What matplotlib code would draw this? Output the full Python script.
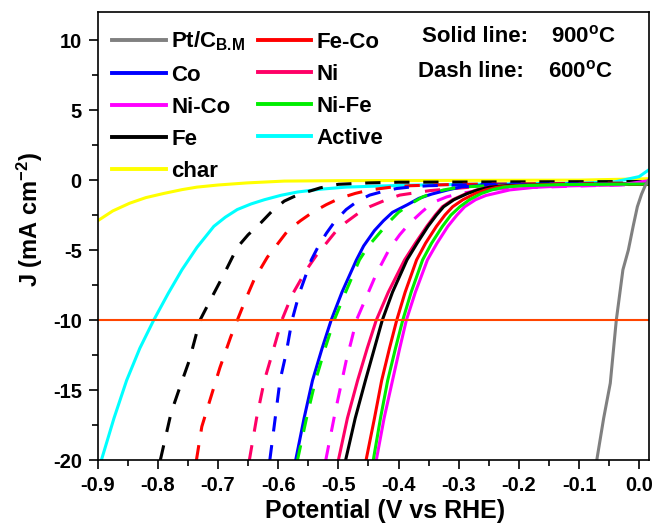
import matplotlib
matplotlib.use("Agg")
import matplotlib.pyplot as plt
from matplotlib.lines import Line2D
from matplotlib.ticker import MultipleLocator

plt.rcParams['font.family'] = ['Liberation Sans', 'DejaVu Sans']
plt.rcParams['font.weight'] = 'bold'
plt.rcParams['mathtext.fontset'] = 'custom'
plt.rcParams['mathtext.rm'] = 'Liberation Sans:bold'
plt.rcParams['mathtext.bf'] = 'Liberation Sans:bold'
plt.rcParams['mathtext.default'] = 'bf'

# LSV data: potential (V vs RHE) and J (mA cm-2)
pt_v = [-0.0705, -0.059, -0.048, -0.038, -0.027, -0.018, -0.010, -0.003, 0.004, 0.010, 0.020]
pt_j = [-20, -17, -14.5, -10, -6.4, -5.0, -3.3, -1.9, -1.0, -0.4, 0.3]

char_v = [-0.9, -0.875, -0.847, -0.82, -0.79, -0.76, -0.735, -0.70, -0.652, -0.59, -0.5, -0.4, -0.1, 0.015]
char_j = [-2.9, -2.2, -1.65, -1.25, -0.95, -0.68, -0.5, -0.35, -0.2, -0.07, -0.04, -0.03, 0.0, 0.1]

active_v = [-0.894, -0.873, -0.852, -0.830, -0.807, -0.783, -0.760, -0.735, -0.707, -0.688, -0.668, -0.645,
            -0.623, -0.595, -0.568, -0.530, -0.487, -0.430, -0.377, -0.250, -0.100, -0.040, 0.000, 0.015]
active_j = [-20, -17, -14.3, -12.0, -10, -8.1, -6.4, -4.8, -3.3, -2.65, -2.1, -1.7,
            -1.4, -1.08, -0.85, -0.65, -0.5, -0.42, -0.36, -0.28, -0.22, -0.12, 0.25, 0.7]

# 600 C samples (dashed)
fe600_v = [-0.796, -0.778, -0.762, -0.748, -0.730, -0.712, -0.690, -0.668, -0.650, -0.630,
           -0.610, -0.590, -0.575, -0.560, -0.530, -0.500, -0.450, -0.400, 0.015]
fe600_j = [-20, -16.6, -14.6, -12.9, -10, -8.5, -6.7, -4.8, -3.9, -3.1,
           -2.2, -1.5, -1.2, -0.95, -0.55, -0.3, -0.2, -0.15, -0.1]

feco600_v = [-0.736, -0.727, -0.712, -0.697, -0.679, -0.668, -0.654, -0.640, -0.618, -0.600, -0.584,
             -0.563, -0.543, -0.520, -0.498, -0.472, -0.448, -0.415, -0.380, -0.300, 0.015]
feco600_j = [-20, -17.6, -15.5, -13.4, -11.2, -10, -8.5, -7.1, -5.5, -4.5, -3.6,
             -2.9, -2.3, -1.75, -1.3, -0.95, -0.7, -0.52, -0.4, -0.3, -0.2]

ni600_v = [-0.648, -0.636, -0.623, -0.610, -0.594, -0.577, -0.553, -0.537, -0.520, -0.505,
           -0.487, -0.468, -0.448, -0.423, -0.398, -0.348, -0.280, -0.200, 0.015]
ni600_j = [-20, -17, -14.3, -12.4, -10, -8.2, -6.4, -5.4, -4.5, -3.7,
           -3.0, -2.4, -1.9, -1.45, -1.07, -0.75, -0.5, -0.4, -0.3]

co600_v = [-0.614, -0.608, -0.597, -0.587, -0.577, -0.565, -0.545, -0.533, -0.520, -0.505,
           -0.487, -0.468, -0.448, -0.425, -0.403, -0.375, -0.350, -0.250, 0.015]
co600_j = [-20, -18, -14.3, -12.4, -10, -8.1, -5.7, -4.7, -3.8, -2.9,
           -2.1, -1.5, -1.07, -0.8, -0.6, -0.47, -0.4, -0.3, -0.25]

nife600_v = [-0.568, -0.553, -0.538, -0.522, -0.507, -0.488, -0.465, -0.450, -0.432, -0.416,
             -0.400, -0.380, -0.360, -0.345, -0.325, -0.298, -0.250, -0.150, 0.015]
nife600_j = [-20, -17, -14.3, -12, -10, -8, -5.7, -4.7, -3.8, -3.0,
             -2.3, -1.7, -1.2, -0.95, -0.7, -0.5, -0.4, -0.33, -0.3]

nico600_v = [-0.521, -0.505, -0.487, -0.478, -0.470, -0.457, -0.437, -0.415, -0.398,
             -0.382, -0.362, -0.343, -0.320, -0.298, -0.260, -0.220, -0.100, 0.015]
nico600_j = [-20, -16.5, -12.9, -11.4, -10, -8.7, -6.7, -4.9, -3.9,
             -3.1, -2.3, -1.6, -1.2, -0.95, -0.72, -0.58, -0.42, -0.3]

# 900 C samples (solid)
co900_v = [-0.571, -0.557, -0.543, -0.527, -0.512, -0.494, -0.470, -0.458, -0.440, -0.425,
           -0.410, -0.385, -0.366, -0.345, -0.318, -0.295, -0.250, -0.150, 0.015]
co900_j = [-20, -17, -14.3, -12, -10, -8, -5.7, -4.7, -3.6, -2.9,
           -2.3, -1.75, -1.3, -1.0, -0.7, -0.48, -0.36, -0.3, -0.28]

j900 = [-20, -17, -14.3, -12, -10, -8, -5.7, -4.5, -3.3, -2.5, -1.9, -1.4, -0.95, -0.7, -0.5, -0.4, -0.32, -0.28]
ni900_v = [-0.500, -0.485, -0.468, -0.452, -0.437, -0.417, -0.390, -0.372, -0.353, -0.339,
           -0.327, -0.310, -0.287, -0.270, -0.250, -0.220, -0.150, 0.015]
fe900_v = [-0.488, -0.472, -0.455, -0.440, -0.427, -0.410, -0.386, -0.369, -0.351, -0.337,
           -0.325, -0.308, -0.285, -0.268, -0.248, -0.218, -0.148, 0.015]
feco900_v = [-0.454, -0.440, -0.428, -0.415, -0.403, -0.389, -0.370, -0.355, -0.337, -0.323,
             -0.310, -0.293, -0.272, -0.255, -0.235, -0.205, -0.140, 0.015]
nife900_v = [-0.442, -0.430, -0.418, -0.405, -0.393, -0.379, -0.360, -0.345, -0.327, -0.313,
             -0.298, -0.282, -0.262, -0.245, -0.225, -0.195, -0.130, 0.015]

nico900_v = [-0.437, -0.424, -0.410, -0.398, -0.387, -0.372, -0.352, -0.336, -0.318, -0.303,
             -0.290, -0.272, -0.255, -0.215, -0.175, -0.132, -0.030, 0.015]
nico900_j = [-20, -17, -14.3, -12, -10, -8, -5.7, -4.5, -3.3, -2.5,
             -1.9, -1.4, -1.1, -0.7, -0.52, -0.43, -0.33, -0.05]

c_gray, c_red, c_blue, c_ni = '#808080', '#FF0000', '#0000FF', '#FF0066'
c_mag, c_green, c_black, c_cyan, c_yel = '#FF00FF', '#00EE00', '#000000', '#00FFFF', '#FFFF00'

fig = plt.figure(figsize=(6.56, 5.23), dpi=100)
ax = fig.add_axes([0.149, 0.120, 0.84, 0.857])

lw = 2.2
dash = (5, 4.5)
ax.plot(char_v, char_j, color=c_yel, lw=lw)
ax.plot(active_v, active_j, color=c_cyan, lw=lw)
ax.plot(fe600_v, fe600_j, color=c_black, lw=lw, dashes=dash)
ax.plot(feco600_v, feco600_j, color=c_red, lw=lw, dashes=dash)
ax.plot(ni600_v, ni600_j, color=c_ni, lw=lw, dashes=dash)
ax.plot(co600_v, co600_j, color=c_blue, lw=lw, dashes=dash)
ax.plot(co900_v, co900_j, color=c_blue, lw=lw)
ax.plot(nife600_v, nife600_j, color=c_green, lw=lw, dashes=dash)
ax.plot(nico600_v, nico600_j, color=c_mag, lw=lw, dashes=dash)
ax.plot(ni900_v, j900, color=c_ni, lw=lw)
ax.plot(fe900_v, j900, color=c_black, lw=lw)
ax.plot(feco900_v, j900, color=c_red, lw=lw)
ax.plot(nico900_v, nico900_j, color=c_mag, lw=lw)
ax.plot(nife900_v, j900, color=c_green, lw=lw)
ax.plot(pt_v, pt_j, color=c_gray, lw=lw)
ax.axhline(-10, color='#FF4500', lw=1.5)

ax.set_xlim(-0.9, 0.016)
ax.set_ylim(-20, 12)
ax.set_xticks([-0.9, -0.8, -0.7, -0.6, -0.5, -0.4, -0.3, -0.2, -0.1, 0.0])
ax.set_xticklabels(['-0.9', '-0.8', '-0.7', '-0.6', '-0.5', '-0.4', '-0.3', '-0.2', '-0.1', '0.0'])
ax.set_yticks([-20, -15, -10, -5, 0, 5, 10])
ax.set_yticklabels(['-20', '-15', '-10', '-5', '0', '5', '10'])
ax.xaxis.set_minor_locator(MultipleLocator(0.05))
ax.yaxis.set_minor_locator(MultipleLocator(2.5))
ax.tick_params(which='major', direction='out', length=6.5, width=1.2, labelsize=14.5, pad=5)
ax.tick_params(which='minor', direction='out', length=4, width=1.2)
for s in ax.spines.values():
    s.set_linewidth(1.2)

ax.set_xlabel('Potential (V vs RHE)', fontsize=18, fontweight='bold')
ax.set_ylabel('J (mA cm$^{-2}$)', fontsize=17, fontweight='bold')
ax.xaxis.set_label_coords(0.521, -0.086)
ax.yaxis.set_label_coords(-0.095, 0.536)

labels = [r'Pt/C$_{B.\!M}$', 'Co', 'Ni-Co', 'Fe', 'char', 'Fe-Co', 'Ni', 'Ni-Fe', 'Active']
colors = [c_gray, c_blue, c_mag, c_black, c_yel, c_red, c_ni, c_green, c_cyan]
handles = [Line2D([], [], color=c, lw=lw + 0.6) for c in colors]
ax.legend(handles, labels, ncol=2, loc='upper left', bbox_to_anchor=(-0.006, 1.0),
          frameon=False, fontsize=16, handlelength=2.4, handletextpad=0.25,
          labelspacing=0.5, columnspacing=0.55, borderaxespad=0.4)

ax.text(0.588, 0.946, 'Solid line:', transform=ax.transAxes, fontsize=16, fontweight='bold', va='center')
ax.text(0.822, 0.946, '900$^{o}$C', transform=ax.transAxes, fontsize=16, fontweight='bold', va='center')
ax.text(0.581, 0.868, 'Dash line:', transform=ax.transAxes, fontsize=16, fontweight='bold', va='center')
ax.text(0.817, 0.868, '600$^{o}$C', transform=ax.transAxes, fontsize=16, fontweight='bold', va='center')

fig.savefig('out.png', dpi=100)
